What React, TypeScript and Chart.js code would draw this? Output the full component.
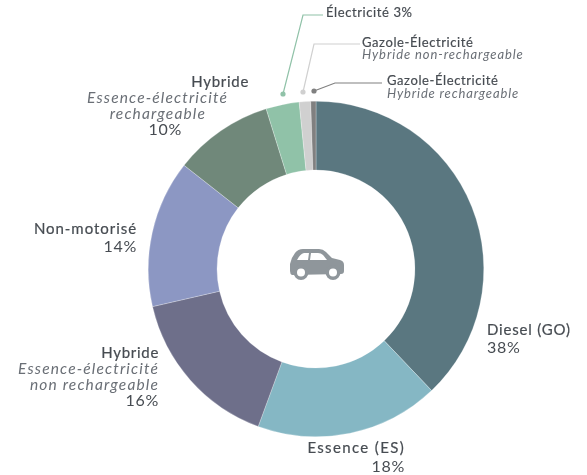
import React, { useEffect, useRef } from "react";
import { Chart, registerables } from "chart.js";

Chart.register(...registerables);

const categories = [
  "Diesel (GO)",
  "Essence (ES)",
  "Hybride Essence-électricité non rechargeable",
  "Non-motorisé",
  "Hybride Essence-électricité rechargeable",
  "Électricité",
  "Gazole-Électricité Hybride non-rechargeable",
  "Gazole-Électricité Hybride rechargeable",
];
const values = [37.9, 17.7, 15.8, 14.2, 9.6, 3.2, 1.1, 0.5];
const colors = ["#5a7780", "#85b7c4", "#6e6f8a", "#8c97c3", "#70887a", "#90c2a8", "#d0d0d0", "#808080"];

const labelTexts = [
  "Diesel (GO)", "38%",
  "Essence (ES)", "18%",
  "Hybride", "Essence-électricité", "non rechargeable", "16%",
  "Non-motorisé", "14%",
  "Hybride", "Essence-électricité", "rechargeable", "10%",
];
const smallTexts = [
  "Électricité 3%",
  "Gazole-Électricité",
  "Hybride non-rechargeable",
  "Gazole-Électricité",
  "Hybride rechargeable",
];

// x, y, align, style, letter spacing, font size
type Place = [number, number, CanvasTextAlign, "b" | "i" | "n", number, number];
const labelPlaces: Place[] = [
  [487, 330, "left", "b", 0.8, 15],
  [487, 348, "left", "n", 0.7, 16],
  [405, 448, "right", "b", 1.35, 15],
  [405, 467, "right", "n", 0.7, 16],
  [159, 353, "right", "b", 0.7, 15],
  [159, 369, "right", "i", 1.15, 15.5],
  [159, 385, "right", "i", 1.15, 15.5],
  [159, 401, "right", "n", 0.7, 16],
  [137, 229, "right", "b", 0.95, 15],
  [137, 247, "right", "n", 0.7, 16],
  [249, 82, "right", "b", 0.7, 15],
  [228, 98, "right", "i", 1.15, 15.5],
  [206, 114, "right", "i", 1.15, 15.5],
  [182, 130, "right", "n", 0.7, 16],
];
const smallPlaces: Place[] = [
  [326, 13, "left", "b", 0.6, 13],
  [362, 43, "left", "b", 0.6, 13],
  [362, 55, "left", "i", 0.9, 13],
  [387, 81, "left", "b", 0.6, 13],
  [387, 94, "left", "i", 0.85, 13],
];
const leaders: { color: string; pts: number[][] }[] = [
  { color: "#90c2a8", pts: [[283, 94], [303, 15], [323, 15]] },
  { color: "#d0d0d0", pts: [[303, 92], [314, 44], [360, 44]] },
  { color: "#808080", pts: [[314, 91], [335, 83], [382, 83]] },
];

const FONT = "Lato, 'Open Sans', sans-serif";

function drawText(ctx: CanvasRenderingContext2D, texts: string[], places: Place[]) {
  ctx.textBaseline = "middle";
  ctx.lineWidth = 0.2;
  texts.forEach((t, i) => {
    const [x, y, align, s, sp, size] = places[i];
    (ctx as any).letterSpacing = `${sp}px`;
    ctx.textAlign = align;
    ctx.font = `${s === "i" ? "italic 400" : "400"} ${size}px ${FONT}`;
    const c = s === "i" ? "#6a6f76" : "#474c52";
    ctx.fillStyle = c;
    ctx.strokeStyle = c;
    ctx.fillText(t, x, y);
    if (s === "b") ctx.strokeText(t, x, y);
  });
}

const overlay = {
  id: "overlay",
  afterDraw(chart: any) {
    const ctx: CanvasRenderingContext2D = chart.ctx;
    ctx.save();
    for (const l of leaders) {
      ctx.strokeStyle = l.color;
      ctx.fillStyle = l.color;
      ctx.lineWidth = 1.2;
      ctx.beginPath();
      l.pts.forEach((p, i) => (i ? ctx.lineTo(p[0], p[1]) : ctx.moveTo(p[0], p[1])));
      ctx.stroke();
      ctx.beginPath();
      ctx.arc(l.pts[0][0], l.pts[0][1], 2.6, 0, Math.PI * 2);
      ctx.fill();
    }
    drawText(ctx, labelTexts, labelPlaces);
    drawText(ctx, smallTexts, smallPlaces);

    const arc = chart.getDatasetMeta(0).data[0];
    ctx.translate(arc.x, arc.y);
    const car = "#8f969b";
    ctx.fillStyle = car;
    ctx.fill(
      new Path2D(
        "M-24 6 Q-26 5 -26 2 L-26 -5 Q-25 -11 -21 -16 Q-18 -20 -13 -20 L3 -20 Q7 -20 10 -17 L16 -11 L24 -9 Q28 -8 28 -4 L28 2 Q28 5 25 5 Z"
      )
    );
    ctx.fillStyle = "#ffffff";
    ctx.fill(new Path2D("M-19 -9 Q-16 -15 -12 -16 L-7 -16 L-8 -9 Z"));
    ctx.fill(new Path2D("M-5 -16 L2 -16 Q5 -16 7 -14 L11 -9 L-6 -9 Z"));
    for (const wx of [-15, 17]) {
      ctx.fillStyle = car;
      ctx.beginPath();
      ctx.arc(wx, 3.5, 7.5, 0, Math.PI * 2);
      ctx.fill();
      ctx.fillStyle = "#ffffff";
      ctx.beginPath();
      ctx.arc(wx, 3.5, 4, 0, Math.PI * 2);
      ctx.fill();
    }
    ctx.restore();
  },
};

export default function App() {
  const ref = useRef<HTMLCanvasElement>(null);
  useEffect(() => {
    const chart = new Chart(ref.current!, {
      type: "doughnut",
      data: {
        labels: categories,
        datasets: [{ data: values, backgroundColor: colors, borderWidth: 0.5, borderColor: "rgba(255,255,255,0.5)" }],
      },
      options: {
        animation: false,
        responsive: false,
        cutout: "59%",
        layout: { padding: { left: 148, right: 103, top: 101, bottom: 38 } },
        plugins: { legend: { display: false }, tooltip: { enabled: false } },
      },
      plugins: [overlay],
    });
    return () => chart.destroy();
  }, []);
  return (
    <canvas
      ref={ref}
      width={587}
      height={475}
      style={{ position: "fixed", left: 0, top: 0, width: 587, height: 475 }}
    />
  );
}
